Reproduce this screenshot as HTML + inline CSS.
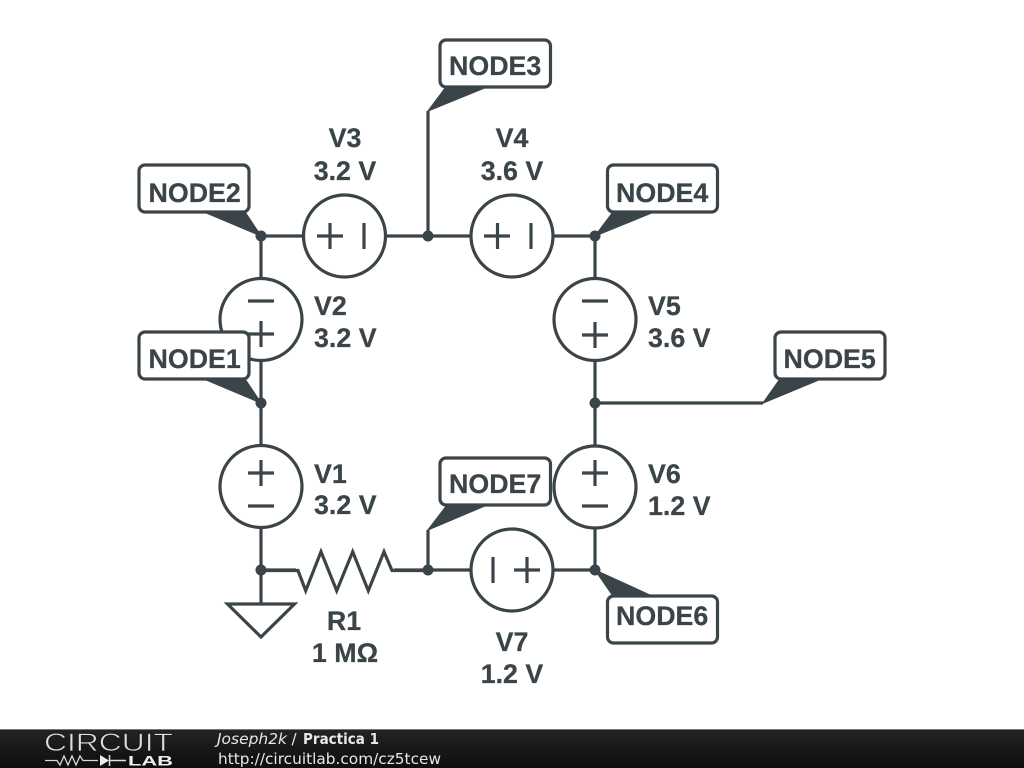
<!DOCTYPE html>
<html>
<head>
<meta charset="utf-8">
<style>
html,body{margin:0;padding:0;background:#fff;width:1024px;height:768px;overflow:hidden}
svg{display:block}
.w{stroke:#3b4449;stroke-width:3.2;fill:none;stroke-linejoin:miter}
.c{stroke:#3b4449;stroke-width:3.2;fill:#fff}
.d{fill:#3b4449}
.k{fill:#3b4449;stroke:#3b4449;stroke-width:1.2;stroke-linejoin:miter}
.t{font-family:"Liberation Sans",sans-serif;font-weight:bold;font-size:26.8px;fill:#3b4449;stroke:#3b4449;stroke-width:0.25}
.m{text-anchor:middle}
.f{font-family:"DejaVu Sans",sans-serif;font-size:15px;fill:#e8e8e8}
</style>
</head>
<body>
<svg width="1024" height="768" viewBox="0 0 1024 768" xmlns="http://www.w3.org/2000/svg">
<defs>
<linearGradient id="bar" x1="0" y1="0" x2="0" y2="1">
<stop offset="0" stop-color="#242424"/><stop offset="0.5" stop-color="#181818"/><stop offset="1" stop-color="#0e0e0e"/>
</linearGradient>
</defs>
<rect width="1024" height="768" fill="#fff"/>

<!-- wires -->
<path class="w" d="M261 236H595V570H261ZM428 236V111M595 403H763M428 570V530M261 570V604"/>
<rect x="296" y="560" width="98" height="20" fill="#fff"/>
<polyline class="w" points="261,570.500 298,570.500 305.700,590.700 321,551.700 336.700,590.700 352.700,551.700 368.300,590.700 384,551.700 392,570.500 428,570.500"/>
<polygon class="w" points="227.500,604 294.500,604 261,637"/>

<!-- sources -->
<circle class="c" cx="344.500" cy="236" r="41"/>
<path class="w" d="M317 236H343M330 223V249M364 223V249"/>
<circle class="c" cx="512" cy="236" r="41"/>
<path class="w" d="M484 236H510M497.500 223V249M531 223V249"/>
<circle class="c" cx="261" cy="319.500" r="41"/>
<path class="w" d="M248 301H274M248 334H274M261 321V347"/>
<circle class="c" cx="595" cy="319.500" r="41"/>
<path class="w" d="M582 301H608M582 335H608M595 322V348"/>
<circle class="c" cx="261" cy="486.500" r="41"/>
<path class="w" d="M248 473H274M261 460V486M248 506H274"/>
<circle class="c" cx="595" cy="487" r="41"/>
<path class="w" d="M582 473H608M595 460V486M582 506H608"/>
<circle class="c" cx="512" cy="570" r="41"/>
<path class="w" d="M493 557V583M514 570H540M527 557V583"/>

<!-- junctions -->
<g class="d">
<circle cx="261" cy="236" r="5.500"/><circle cx="428" cy="236" r="5.500"/><circle cx="595" cy="236" r="5.500"/>
<circle cx="261" cy="403" r="5.500"/><circle cx="595" cy="403" r="5.500"/>
<circle cx="261" cy="570" r="5.500"/><circle cx="428" cy="570" r="5.500"/><circle cx="595" cy="570" r="5.500"/>
</g>

<!-- node labels -->
<rect class="c" x="139" y="165" width="110" height="47" rx="6"/>
<polygon class="k" points="204,212 245,212 261,236"/>
<text class="t" x="148.500" y="202">NODE2</text>

<rect class="c" x="139" y="332" width="110" height="47" rx="6"/>
<polygon class="k" points="204,379 245,379 261,403"/>
<text class="t" x="148.500" y="368">NODE1</text>

<rect class="c" x="440" y="40" width="110.500" height="47" rx="6"/>
<polygon class="k" points="446,87 487,87 428,111"/>
<text class="t" x="449" y="75">NODE3</text>

<rect class="c" x="607.500" y="165" width="110" height="47" rx="6"/>
<polygon class="k" points="613,212 654,212 595,236"/>
<text class="t" x="616" y="202">NODE4</text>

<rect class="c" x="775" y="332" width="110" height="47" rx="6"/>
<polygon class="k" points="780,379 821,379 763,403"/>
<text class="t" x="783.500" y="368">NODE5</text>

<rect class="c" x="607.500" y="596" width="110" height="47" rx="6"/>
<polygon class="k" points="595,570 652,596 613,596"/>
<text class="t" x="616" y="625">NODE6</text>

<rect class="c" x="440" y="458" width="110.500" height="47" rx="6"/>
<polygon class="k" points="447,505 487,505 428,530"/>
<text class="t" x="449" y="493">NODE7</text>

<!-- component labels -->
<text class="t m" x="345" y="147">V3</text>
<text class="t m" x="345" y="180">3.2 V</text>
<text class="t m" x="512" y="147">V4</text>
<text class="t m" x="512" y="180">3.6 V</text>
<text class="t" x="314" y="315">V2</text>
<text class="t" x="314" y="347">3.2 V</text>
<text class="t" x="648" y="315">V5</text>
<text class="t" x="648" y="347">3.6 V</text>
<text class="t" x="314" y="483">V1</text>
<text class="t" x="314" y="514">3.2 V</text>
<text class="t" x="648" y="483">V6</text>
<text class="t" x="648" y="515">1.2 V</text>
<text class="t m" x="344" y="630">R1</text>
<text class="t m" x="345" y="662">1 MΩ</text>
<text class="t m" x="512" y="651">V7</text>
<text class="t m" x="512" y="683">1.2 V</text>

<!-- footer -->
<rect x="0" y="729" width="1024" height="39" fill="url(#bar)"/>
<rect x="0" y="729" width="1024" height="1" fill="#777"/>
<text x="44" y="751" font-family="Liberation Sans, sans-serif" font-size="25" fill="#e0e0e0" stroke="#1c1c1c" stroke-width="0.7" textLength="129" lengthAdjust="spacingAndGlyphs">CIRCUIT</text>
<polyline points="45,760.500 57,760.500 60,765 64,756 68,765 72,756 76,765 80,756 83,760.500 98,760.500" fill="none" stroke="#d8d8d8" stroke-width="1.300"/>
<polygon points="100,755 100,766 109,760.500" fill="#eee"/>
<path d="M109.500 755V766M109 760.500H126" stroke="#e0e0e0" stroke-width="1.500" fill="none"/>
<text x="128" y="765.500" font-family="Liberation Sans, sans-serif" font-weight="bold" font-size="14" fill="#eee" textLength="45" lengthAdjust="spacingAndGlyphs">LAB</text>
<text class="f" x="217" y="744" font-style="italic" textLength="70" lengthAdjust="spacingAndGlyphs">Joseph2k</text>
<text class="f" x="291.500" y="744">/</text>
<text class="f" x="303" y="744" font-weight="bold" fill="#fff" textLength="76" lengthAdjust="spacingAndGlyphs">Practica 1</text>
<text class="f" x="218" y="764" textLength="223" lengthAdjust="spacingAndGlyphs">http://circuitlab.com/cz5tcew</text>
</svg>
</body>
</html>
